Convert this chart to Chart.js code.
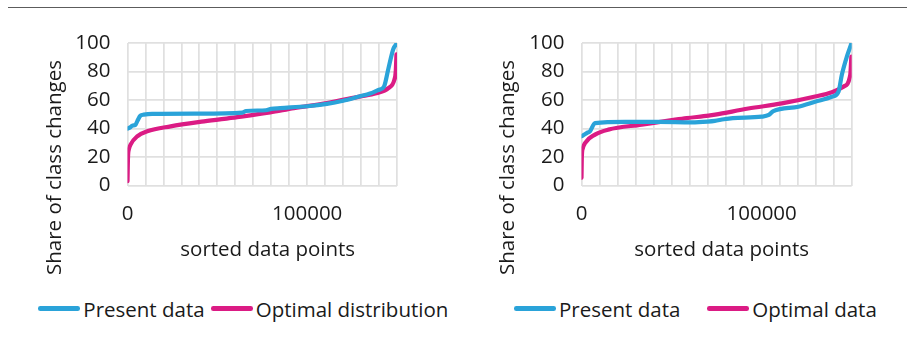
<!DOCTYPE html>
<html><head><meta charset="utf-8">
<script src="https://cdn.jsdelivr.net/npm/chart.js@4.4.1/dist/chart.umd.min.js"></script>
<style>
html,body{margin:0;padding:0;background:#fff;}
body{width:907px;height:344px;position:relative;overflow:hidden;font-family:"Open Sans",sans-serif;}
#rule{position:absolute;left:8px;top:7px;width:899px;height:1px;background:#5c5c5c;}
.wrap{position:absolute;top:0;height:290px;}
.item{position:absolute;top:297.3px;height:24px;font-size:20.5px;line-height:24px;color:#1a1a1a;white-space:nowrap;}
.item .sw{position:absolute;left:0;top:8.8px;width:42px;height:4.5px;border-radius:2.3px;}
.item .tx{position:absolute;left:45px;top:0;}
</style></head><body>
<div id="rule"></div>
<div class="wrap" style="left:0;width:453px"><canvas id="c1" width="453" height="290"></canvas></div>
<div class="wrap" style="left:453px;width:454px"><canvas id="c2" width="454" height="290"></canvas></div>
<div id="legends"></div>
<script>
// ---------- data ----------
const xTickValues = [0, 100000];
const yTicks = [0, 20, 40, 60, 80, 100];
const xAxisMax = 150000;
const xGridStep = 10000;
const axisTitleX = 'sorted data points';
const axisTitleY = 'Share of class changes';
const leftSeries = ['Present data', 'Optimal distribution'];
const rightSeries = ['Present data', 'Optimal data'];

const leftPresentX = [0, 1500, 2600, 4400, 5400, 7200, 9000, 13700, 40000, 64000, 66000, 77000, 80000, 85000, 100000, 111000, 120000, 129000, 135000, 139600, 142800, 145200, 148000, 149800];
const leftPresentY = [40, 40.8, 42, 42.5, 45, 49, 49.7, 50.3, 50.5, 51.2, 52.3, 52.8, 53.8, 54.3, 55.6, 57.3, 59.5, 62.5, 64.5, 67, 69.5, 82, 96, 99.5];
const leftOptimalX = [0, 300, 800, 1700, 5400, 11000, 24000, 42600, 61100, 79400, 92600, 111000, 129000, 138500, 145200, 148500, 149300, 149700];
const leftOptimalY = [3, 20.5, 25.5, 28.7, 34.5, 38, 41.5, 45, 48, 51.3, 54.3, 57.8, 62.4, 64.8, 68.3, 74, 80, 92];

const rightPresentX = [0, 2900, 4700, 7500, 24200, 42700, 61200, 70000, 74000, 79000, 84000, 100000, 104000, 106500, 120400, 129700, 139000, 142700, 144500, 147300, 149800];
const rightPresentY = [34.5, 36.8, 38, 43.8, 44.6, 44.6, 44.3, 44.8, 45.3, 46.5, 47.3, 48.3, 49.5, 52.2, 55.3, 58.8, 62.3, 65.9, 77.6, 90.4, 99.5];
const rightOptimalX = [0, 200, 700, 1950, 7500, 14900, 33400, 52000, 58400, 70500, 74200, 92600, 111200, 129700, 139000, 145500, 149200, 149800];
const rightOptimalY = [5.4, 20.5, 26, 29.8, 35.7, 39.2, 42.7, 46.2, 47.3, 49, 49.7, 54, 57.6, 62.4, 65.5, 69.4, 77.6, 90.4];

// ---------- style / layout ----------
const COLORS = ['#2aa3d9', '#db1b84'];
const FONT = '"Open Sans", sans-serif';
const FSIZE = 20.5;
const TEXT = '#1a1a1a';
const GRID = '#e0e0e0';
const Y_AXIS_W = 70;

const layouts = {
  c1: {pad: {left: 127.5 - Y_AXIS_W, right: 56, top: 43, bottom: 64.5}, xTitle: {x: 267.7, y: 255.5}, yTitle: {x: 61, y: 167.5},
       legend: [38.3, 210.7]},
  c2: {pad: {left: 128.5 - Y_AXIS_W, right: 55.3, top: 43, bottom: 64.5}, xTitle: {x: 268.7, y: 255.5}, yTitle: {x: 61, y: 167.5},
       legend: [514, 707.3]}
};

const toPts = (xs, ys) => xs.map((x, i) => ({x: x, y: ys[i]}));

const axisTitles = {
  id: 'axisTitles',
  afterDraw(chart, args, opts) {
    const ctx = chart.ctx;
    ctx.save();
    ctx.fillStyle = TEXT;
    ctx.font = FSIZE + 'px ' + FONT;
    ctx.textAlign = 'center';
    ctx.textBaseline = 'alphabetic';
    ctx.fillText(axisTitleX, opts.xTitle.x, opts.xTitle.y);
    ctx.translate(opts.yTitle.x, opts.yTitle.y);
    ctx.rotate(-Math.PI / 2);
    ctx.fillText(axisTitleY, 0, 0);
    ctx.restore();
  }
};

function makeChart(id, names, px, py, ox, oy) {
  const L = layouts[id];
  const ds = (label, xs, ys, color) => ({
    label: label, data: toPts(xs, ys), borderColor: color, backgroundColor: color,
    borderWidth: 4.2, pointRadius: 0, fill: false, cubicInterpolationMode: 'monotone',
    borderCapStyle: 'round', borderJoinStyle: 'round'
  });
  new Chart(document.getElementById(id), {
    type: 'line',
    data: {datasets: [ds(names[0], px, py, COLORS[0]), ds(names[1], ox, oy, COLORS[1])]},
    options: {
      responsive: false, animation: false, events: [],
      layout: {padding: L.pad},
      plugins: {legend: {display: false}, tooltip: {enabled: false}, axisTitles: L},
      scales: {
        x: {
          type: 'linear', min: 0, max: xAxisMax,
          grid: {color: GRID, lineWidth: 1.75, drawTicks: false},
          border: {display: false},
          ticks: {stepSize: xGridStep, autoSkip: false, maxRotation: 0, padding: 16, color: TEXT,
                  font: {family: FONT, size: FSIZE},
                  callback: v => xTickValues.includes(v) ? String(v) : ''},
          afterFit: s => { s.height = 40; }
        },
        y: {
          min: yTicks[0], max: yTicks[yTicks.length - 1],
          grid: {color: GRID, lineWidth: 1.75, drawTicks: false},
          border: {display: false},
          ticks: {stepSize: yTicks[1] - yTicks[0], padding: 17, color: TEXT, font: {family: FONT, size: FSIZE}},
          afterFit: s => { s.width = Y_AXIS_W; }
        }
      }
    },
    plugins: [axisTitles]
  });
  // legend (HTML, real text)
  const host = document.getElementById('legends');
  names.forEach((n, i) => {
    const d = document.createElement('div');
    d.className = 'item';
    d.style.left = (L.legend[i]) + 'px';
    d.innerHTML = '<div class="sw" style="background:' + COLORS[i] + '"></div><span class="tx"></span>';
    d.querySelector('.tx').textContent = n;
    host.appendChild(d);
  });
}

makeChart('c1', leftSeries, leftPresentX, leftPresentY, leftOptimalX, leftOptimalY);
makeChart('c2', rightSeries, rightPresentX, rightPresentY, rightOptimalX, rightOptimalY);
</script>
</body></html>
